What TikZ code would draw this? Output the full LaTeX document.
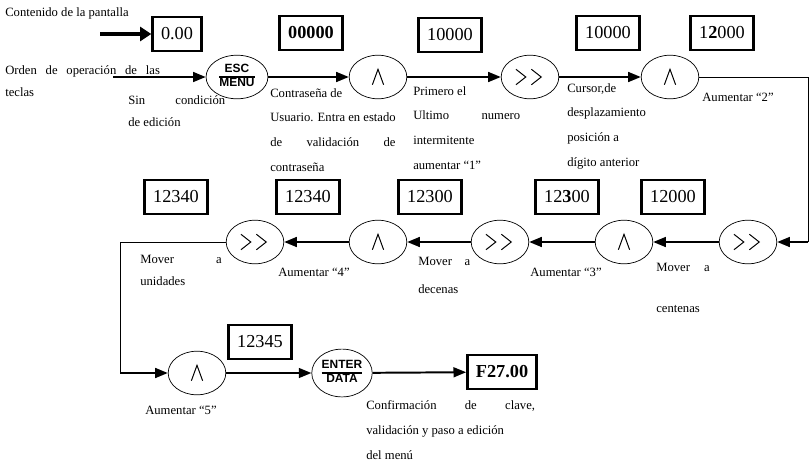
\documentclass[tikz,border=0pt]{standalone}
\usepackage{fontspec}
\setmainfont{Liberation Serif}
\newfontfamily\keyfont{Liberation Sans}
\usetikzlibrary{positioning, shapes.geometric, arrows.meta}
\setlength{\arrayrulewidth}{1.3pt}
\newcommand{\keylabel}[2]{{\keyfont\bfseries\fontsize{8.5}{9}\selectfont
  \begin{tabular}{@{}c@{}}#1\\\hline #2\end{tabular}}}

\begin{document}
\begin{tikzpicture}[
  x=0.025cm, y=-0.025cm,
  font=\fontsize{9}{17.5}\selectfont,
  disp/.style={draw, rectangle, line width=1.8pt, minimum height=24pt,
               inner xsep=6pt, font=\fontsize{13}{15}\selectfont},
  key/.style={draw, ellipse, line width=0.5pt, minimum width=41pt,
              minimum height=31pt, inner sep=0pt},
  upkey/.style={key, path picture={
      \draw[line width=0.7pt] ([shift={(-4pt,-5.5pt)}]path picture bounding box.center)
        -- ++(4pt,11pt) -- ++(4pt,-11pt);}},
  movkey/.style={key, path picture={
      \draw[line width=0.7pt] ([shift={(-10pt,5.5pt)}]path picture bounding box.center)
        -- ++(7pt,-5.5pt) -- ++(-7pt,-5.5pt);
      \draw[line width=0.7pt] ([shift={(1pt,5.5pt)}]path picture bounding box.center)
        -- ++(7pt,-5.5pt) -- ++(-7pt,-5.5pt);}},
  txt/.style={anchor=base west, inner sep=0pt, align=left},
  arr/.style={line width=1.4pt, -{Triangle[length=9pt,width=7pt]}},
  lnk/.style={line width=0.6pt},
]
\useasboundingbox (0,0) rectangle (810,462);
%% Row 1 (text nodes sit on the baseline of their last line)
\node[txt] (lblscreen) at (5,16) {Contenido de la pantalla};
\node[disp] (d0) at (177,34) {0.00};
\coordinate (heavy) at (100,34);
\draw[line width=3.5pt, -{Triangle[length=8pt,width=10pt]}] (heavy) -- (d0);
\node[txt] (lblkeys) at (5,96) {\makebox[110pt][s]{Orden de operación de las}\\[-1.9pt]teclas};
\coordinate (keyin) at (113,77);
\node[key, minimum width=44pt] (esc) at (237,77) {\keylabel{ESC}{MENU}};
\draw[arr] (keyin) -- (esc);
\node[txt] (lblnone) at (128,126) {\makebox[69pt][s]{Sin condición}\\[-1.9pt]de edición};
\node[upkey] (up1) at (378,77) {};
\node[disp] (d1) at (311,33) {\textbf{00000}};
\draw[arr] (esc) -- (up1);
\node[txt] (lblpass) at (270,171)
  {Contraseña de\\Usuario. Entra en estado\\\makebox[89pt][s]{de validación de}\\contraseña};
\node[movkey] (sh1) at (530,77) {};
\node[disp] (d2) at (450,35) {10000};
\draw[arr] (up1) -- (sh1);
\node[txt] (lblfirst) at (413,169)
  {Primero el\\\makebox[76pt][s]{Ultimo numero}\\intermitente\\aumentar “1”};
\node[upkey] (up2) at (670,77) {};
\node[disp] (d3) at (608,33) {10000};
\node[disp] (d4) at (722,33) {1\textbf{2}000};
\draw[arr] (sh1) -- (up2);
\node[txt] (lblcursor) at (567,166)
  {Cursor,de\\desplazamiento\\posición a\\dígito anterior};
\node[txt] (lblinc2) at (702,101) {Aumentar “2”};
%% Row 2
\node[movkey] (sh2) at (748,242) {};
\coordinate (c2) at (808,242);
\draw[lnk] (up2) -| (c2);
\draw[arr] (c2) -- (sh2);
\node[upkey] (up3) at (624,242) {};
\node[disp] (d5) at (673,197) {12000};
\draw[arr] (sh2) -- (up3);
\node[txt] (lblhund) at (656,312) {\makebox[38pt][s]{Mover a}\\[11pt]centenas};
\node[movkey] (sh3) at (500,242) {};
\node[disp] (d6) at (567,197) {12\textbf{3}00};
\draw[arr] (up3) -- (sh3);
\node[txt] (lblinc3) at (530,276) {Aumentar “3”};
\node[upkey] (up4) at (378,242) {};
\node[disp] (d7) at (430,197) {12300};
\draw[arr] (sh3) -- (up4);
\node[txt] (lbltens) at (418,293) {\makebox[37pt][s]{Mover a}\\[2.4pt]decenas};
\node[movkey] (sh4) at (255,242) {};
\node[disp] (d8) at (308,197) {12340};
\node[disp] (d9) at (176,197) {12340};
\draw[arr] (up4) -- (sh4);
\node[txt] (lblinc4) at (278,276) {Aumentar “4”};
\node[txt] (lblunits) at (140,285) {\makebox[58pt][s]{Mover a}\\[-1.9pt]unidades};
%% Row 3
\node[upkey] (up5) at (197,373) {};
\coordinate (c4) at (120,373);
\draw[lnk] (sh4) -| (c4);
\draw[arr] (c4) -- (up5);
\node[disp] (d10) at (260,342) {12345};
\node[key, minimum width=43pt, minimum height=34pt] (enter) at (342,373) {\keylabel{ENTER}{DATA}};
\draw[arr] (up5) -- (enter);
\node[disp] (d11) at (502,372) {\textbf{F27.00}};
\draw[arr] (enter) -- (d11);
\node[txt] (lblinc5) at (145,414) {Aumentar “5”};
\node[txt] (lblconfirm) at (366,459)
  {\makebox[120pt][s]{Confirmación de clave,}\\validación y paso a edición\\del menú};
\end{tikzpicture}
\end{document}
